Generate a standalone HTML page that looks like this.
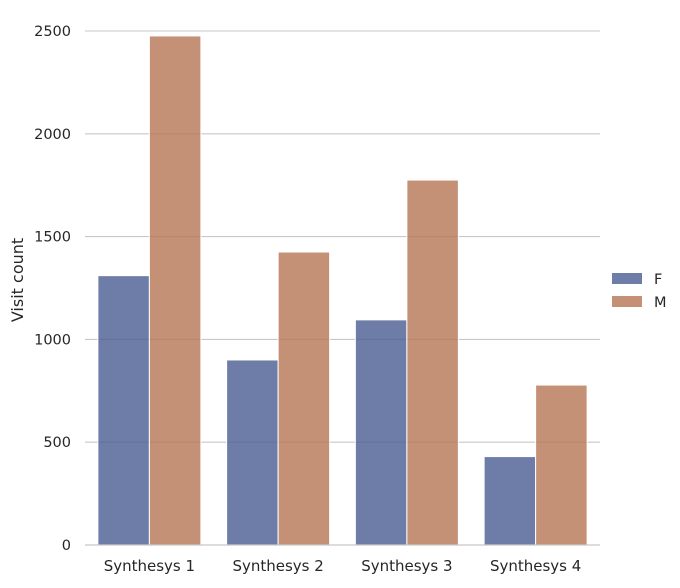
<!DOCTYPE html>
<html><head><meta charset="utf-8"><style>
html,body{margin:0;padding:0;background:#fff;}
svg text{font-family:"DejaVu Sans","Liberation Sans",sans-serif;fill:#262626;}
</style></head><body>
<svg id="chart" width="680" height="583" xmlns="http://www.w3.org/2000/svg">
<g id="grid"></g>
<g id="bars"></g>
<g id="axes"></g>
<text x="23" y="280" font-size="16" text-anchor="middle" transform="rotate(-90 23 280)">Visit count</text>
<g>
<rect x="612" y="273" width="30" height="11" fill="#4a5b92" fill-opacity="0.8"/>
<text x="654" y="284" font-size="14.5">F</text>
<rect x="612" y="296" width="30" height="11" fill="#b57454" fill-opacity="0.8"/>
<text x="654" y="307" font-size="14.5">M</text>
</g>
</svg>
<script>
const categories = ["Synthesys 1","Synthesys 2","Synthesys 3","Synthesys 4"];
const seriesF = [1310, 900, 1095, 430];
const seriesM = [2476, 1425, 1775, 778];
const yTicks = [0, 500, 1000, 1500, 2000, 2500];
const NS="http://www.w3.org/2000/svg";
const x0=85,x1=600,yBase=545,yTop=31,yMax=2500;
const y=v=>yBase-(v/yMax)*(yBase-yTop);
const band=(x1-x0)/categories.length;
const xc=i=>x0+band*(i+0.5);
const bw=band*0.4;
function mk(t,a,p){const e=document.createElementNS(NS,t);for(const k in a)e.setAttribute(k,a[k]);p.appendChild(e);return e;}
const grid=document.getElementById('grid'),bars=document.getElementById('bars'),axes=document.getElementById('axes');
yTicks.forEach(v=>{
 const l=mk('line',{x1:x0,x2:x1,y1:y(v),y2:y(v),stroke:'#c8c8c8','stroke-width':1.1},grid);
 
 
 const t=mk('text',{x:71,y:y(v)+5,'font-size':14.5,'text-anchor':'end'},axes);t.textContent=v;
 
 
});
categories.forEach((c,i)=>{
 const f=mk('rect',{x:xc(i)-bw,y:y(seriesF[i]),width:bw,height:yBase-y(seriesF[i]),fill:'#4a5b92','fill-opacity':0.8,stroke:'#fff','stroke-width':1},bars);
 
 
 const m=mk('rect',{x:xc(i),y:y(seriesM[i]),width:bw,height:yBase-y(seriesM[i]),fill:'#b57454','fill-opacity':0.8,stroke:'#fff','stroke-width':1},bars);
 
 
 const t=mk('text',{x:xc(i),y:571,'font-size':15,'text-anchor':'middle'},axes);t.textContent=c;
 
 
});
const ax=mk('line',{x1:x0,x2:x1,y1:yBase,y2:yBase,stroke:'#c8c8c8','stroke-width':1.2},axes);


</script>
</body></html>
